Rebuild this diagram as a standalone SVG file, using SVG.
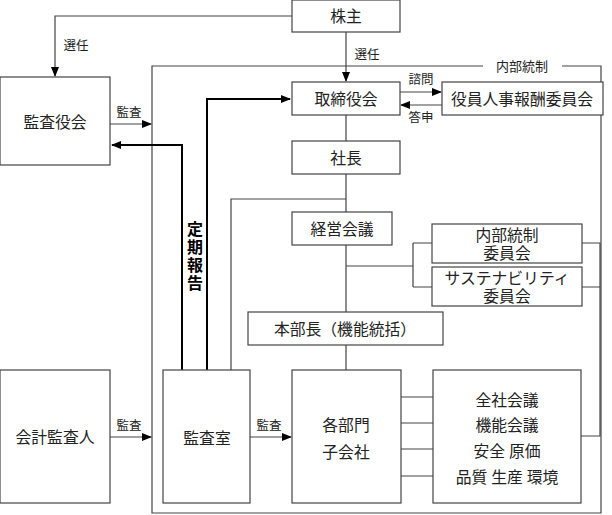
<svg xmlns="http://www.w3.org/2000/svg" width="612" height="515" viewBox="0 0 612 515">
<defs>
<marker id="ah" markerWidth="10" markerHeight="8" refX="9" refY="4" orient="auto" markerUnits="userSpaceOnUse">
<path d="M0,0 L10,4 L0,8 Z" fill="#000"/>
</marker>
<style>
.box{fill:#fff;stroke:#444;stroke-width:1.2}
.t{font-family:"Liberation Serif","Noto Sans CJK JP",serif;font-size:15.8px;fill:#222;text-anchor:middle;dominant-baseline:central}
.s{font-family:"Liberation Serif","Noto Sans CJK JP",serif;font-size:12.5px;fill:#222;text-anchor:middle;dominant-baseline:central}
.ln{fill:none;stroke:#444;stroke-width:1.2}
.th{fill:none;stroke:#000;stroke-width:2}
</style>
</defs>
<rect width="612" height="515" fill="#fff"/>
<g id="connectors">
<path class="ln" d="M483,66 H152 V513 H601 V66 H562"/>
<path class="ln" d="M292,16 H55 V76" marker-end="url(#ah)"/>
<path class="ln" d="M346,32 V81" marker-end="url(#ah)"/>
<path class="ln" d="M400,92 H441" marker-end="url(#ah)"/>
<path class="ln" d="M442,105 H401" marker-end="url(#ah)"/>
<path class="ln" d="M346,115 V141 M346,174 V212 M346,245 V312 M346,345 V370"/>
<path class="ln" d="M346,199 H231 V370"/>
<path class="ln" d="M346,266 H413 M413,243 V287 M413,243 H432 M413,287 H432"/>
<path class="ln" d="M582,243 H600 V436 H581 M582,287 H600"/>
<path class="ln" d="M401,397 H433 M401,423 H433 M401,449 H433 M401,476 H433"/>
<path class="ln" d="M110,124 H151" marker-end="url(#ah)"/>
<path class="ln" d="M110,437 H151" marker-end="url(#ah)"/>
<path class="ln" d="M250,437 H291" marker-end="url(#ah)"/>
<path class="th" d="M182,370 V145 H112" marker-end="url(#ah)"/>
<path class="th" d="M207,370 V99 H290" marker-end="url(#ah)"/>
<text class="s" x="76" y="46">選任</text>
<text class="s" x="367" y="55">選任</text>
<text class="s" x="421" y="80">諮問</text>
<text class="s" x="421" y="118">答申</text>
<text class="s" x="129" y="113">監査</text>
<text class="s" x="129" y="426">監査</text>
<text class="s" x="269" y="426">監査</text>
<text class="s" x="522" y="66" style="font-size:13px">内部統制</text>
<g font-family="'Liberation Sans','Noto Sans CJK JP',sans-serif" font-size="16" font-weight="bold" fill="#000" text-anchor="middle">
<text x="195" y="235">定</text><text x="195" y="253">期</text><text x="195" y="271">報</text><text x="195" y="289">告</text>
</g>
</g>
<g id="kabunushi"><rect class="box" x="292" y="0" width="108" height="32"/><text class="t" x="346" y="16">株主</text></g>
<g id="kansayakukai"><rect class="box" x="0" y="77" width="110" height="88"/><text class="t" x="55" y="122">監査役会</text></g>
<g id="torishimariyakukai"><rect class="box" x="292" y="82" width="108" height="33"/><text class="t" x="346" y="99">取締役会</text></g>
<g id="hoshu"><rect class="box" x="442" y="82" width="161" height="33"/><text class="t" x="522" y="99">役員人事報酬委員会</text></g>
<g id="shacho"><rect class="box" x="292" y="141" width="108" height="33"/><text class="t" x="346" y="158">社長</text></g>
<g id="keiei"><rect class="box" x="292" y="212" width="100" height="33"/><text class="t" x="342" y="229">経営会議</text></g>
<g id="naibutosei"><rect class="box" x="432" y="224" width="150" height="39"/><text class="t" x="507" y="235">内部統制</text><text class="t" x="507" y="253">委員会</text></g>
<g id="sustain"><rect class="box" x="432" y="267" width="150" height="39"/><text class="t" x="507" y="278">サステナビリティ</text><text class="t" x="507" y="296">委員会</text></g>
<g id="honbucho"><rect class="box" x="248" y="312" width="195" height="33"/><text class="t" x="345" y="329">本部長（機能統括）</text></g>
<g id="kaikei"><rect class="box" x="0" y="370" width="110" height="133"/><text class="t" x="55" y="437">会計監査人</text></g>
<g id="kansashitsu"><rect class="box" x="163" y="370" width="87" height="133"/><text class="t" x="207" y="438">監査室</text></g>
<g id="kakubumon"><rect class="box" x="292" y="370" width="109" height="133"/><text class="t" x="346" y="425">各部門</text><text class="t" x="346" y="452">子会社</text></g>
<g id="kaigi"><rect class="box" x="433" y="370" width="148" height="133"/><text class="t" x="507" y="400">全社会議</text><text class="t" x="507" y="425">機能会議</text><text class="t" x="507" y="451">安全 原価</text><text class="t" x="507" y="477">品質 生産 環境</text></g>
</svg>
